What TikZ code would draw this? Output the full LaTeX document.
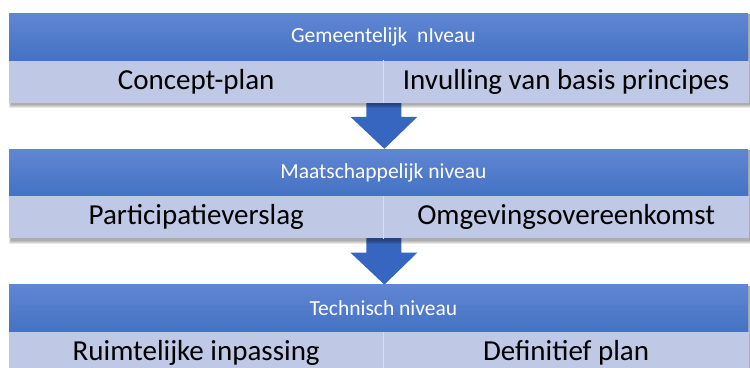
\documentclass[tikz,border=0pt]{standalone}
\usepackage{fontspec}
\setmainfont{Carlito}
\usetikzlibrary{positioning,calc,backgrounds}
\definecolor{headtop}{RGB}{96,134,211}
\definecolor{headbot}{RGB}{68,114,196}
\definecolor{cellblue}{RGB}{191,201,230}
\definecolor{cellline}{RGB}{214,221,240}
\definecolor{arrowblue}{RGB}{55,102,192}
\tikzset{
	header/.style={rectangle, minimum width=739pt, minimum height=47pt, inner sep=0pt, top color=headtop, bottom color=headbot},
	headtext/.style={text=white, inner sep=0pt, font=\fontsize{21.5}{25}\selectfont},
	cell/.style={rectangle, minimum height=42pt, inner sep=0pt, fill=cellblue, font=\fontsize{29}{34}\selectfont},
	leftcell/.style={cell, minimum width=374pt},
	rightcell/.style={cell, minimum width=365pt},
	divider/.style={cellline, line width=1pt},
	flow/.style={fill=arrowblue},
	softshadow/.style={fill=black, opacity=0.09}
}
\begin{document}
\begin{tikzpicture}[x=1pt,y=-1pt]
		\clip (0,0) rectangle (750,367);
		\node[header, anchor=north west] (h1) at (9,13) {};
		\node[leftcell, below=0pt of h1.south west, anchor=north west] (c1a) {Concept-plan};
		\node[rightcell, right=0pt of c1a] (c1b) {Invulling van basis principes};
		\node[headtext] (t1) at (h1.center -| c1a.east) {Gemeentelijk\ \ nIveau};
		\draw[divider] (c1a.north east) -- (c1a.south east);

		\node[header, below=46pt of c1a.south west, anchor=north west] (h2) {};
		\node[leftcell, below=0pt of h2.south west, anchor=north west] (c2a) {Participatieverslag};
		\node[rightcell, right=0pt of c2a] (c2b) {Omgevingsovereenkomst};
		\node[headtext] (t2) at (h2.center -| c2a.east) {Maatschappelijk niveau};
		\draw[divider] (c2a.north east) -- (c2a.south east);

		\node[header, below=46pt of c2a.south west, anchor=north west] (h3) {};
		\node[leftcell, below=0pt of h3.south west, anchor=north west] (c3a) {Ruimtelijke inpassing};
		\node[rightcell, right=0pt of c3a] (c3b) {Definitief plan};
		\node[headtext] (t3) at (h3.center -| c3a.east) {Technisch niveau};
		\draw[divider] (c3a.north east) -- (c3a.south east);

		\begin{scope}[on background layer]
			\fill[white] (0,0) rectangle (750,367);
			\foreach \a/\b in {c1a/h2, c2a/h3} {
				\fill[flow] ($(\a.south east)+(-17,-5)$) -- ++(35,0) -- ++(0,19) -- ++(16,0)
					-- ($(\b.north -| \a.east)+(1,0)$) -- ($(\a.south east)+(-33,14)$) -- ++(16,0) -- cycle;
			}
			\foreach \h/\c in {h1/c1b, h2/c2b, h3/c3b} {
				\foreach \s in {1,...,4}
					\fill[softshadow] ($(\h.north west)+(2-\s*0.5,1)$) rectangle ($(\c.south east)+(1+\s,1+\s)$);
			}
		\end{scope}
	\end{tikzpicture}
\end{document}
